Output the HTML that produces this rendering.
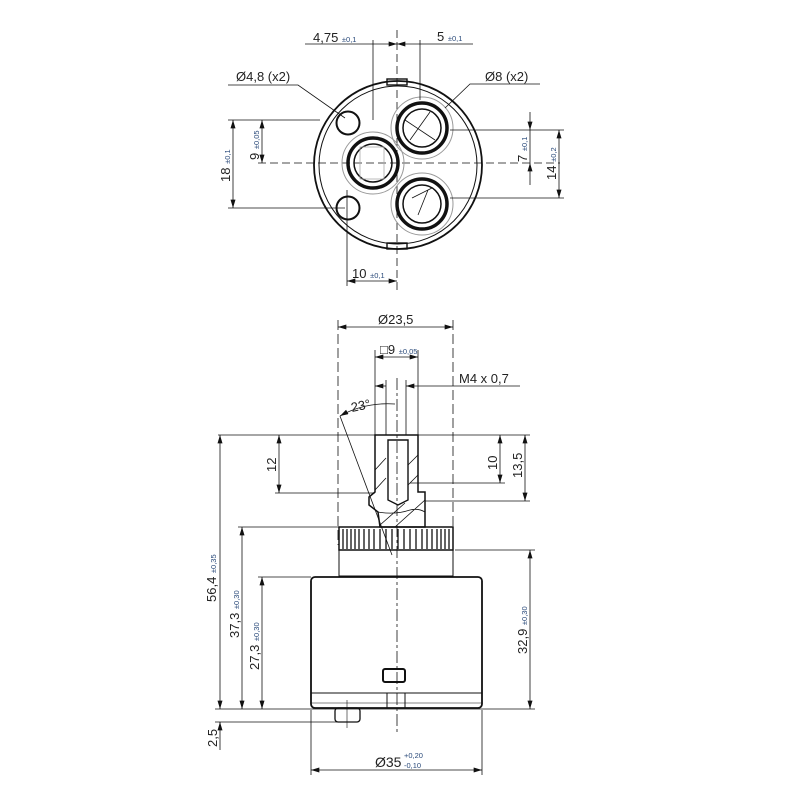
<!DOCTYPE html>
<html><head><meta charset="utf-8"><style>
html,body{margin:0;padding:0;background:#fff}
svg{display:block}
text{font-family:"Liberation Sans",sans-serif;fill:#222}
.t{font-size:7.5px;fill:#2a4a7a}
</style></head><body>
<svg width="800" height="800" viewBox="0 0 800 800" xmlns="http://www.w3.org/2000/svg">
<defs>
<marker id="a" viewBox="0 0 10 6" refX="10" refY="3" markerWidth="9" markerHeight="5" orient="auto-start-reverse" markerUnits="userSpaceOnUse"><path d="M0,0L10,3L0,6z" fill="#111"/></marker>
</defs>
<g stroke="#111" fill="none" stroke-width="1">
<!-- TOP VIEW -->
<line x1="397" y1="30" x2="397" y2="290" stroke-dasharray="8,4" stroke-width="0.8"/>
<line x1="258" y1="163" x2="560" y2="163" stroke-dasharray="8,4" stroke-width="0.8"/>
<circle cx="398" cy="165" r="84" stroke-width="1.8"/>
<circle cx="398" cy="165" r="79" stroke-width="1"/>
<rect x="387" y="79" width="20" height="6" stroke-width="1.4"/>
<rect x="387" y="243" width="20" height="6" stroke-width="1.4"/>
<circle cx="348" cy="123" r="11.5" stroke-width="2"/>
<circle cx="348" cy="208" r="11.5" stroke-width="2"/>
<circle cx="373" cy="163" r="31" stroke-width="1" stroke="#999"/>
<circle cx="373" cy="163" r="25" stroke-width="3.5"/>
<circle cx="373" cy="163" r="19" stroke-width="1.5"/>
<rect x="360" y="147" width="24" height="32" stroke="#aaa" stroke-width="0.8"/>
<circle cx="422" cy="128" r="31" stroke-width="1" stroke="#999"/>
<circle cx="422" cy="128" r="25" stroke-width="3.5"/>
<circle cx="422" cy="128" r="19" stroke-width="1.5"/>
<circle cx="422" cy="204" r="31" stroke-width="1" stroke="#999"/>
<circle cx="422" cy="204" r="25" stroke-width="3.5"/>
<circle cx="422" cy="204" r="19" stroke-width="1.5"/>
<path d="M405,120L435,140M410,140L430,112M412,198L432,188M418,215L428,190" stroke-width="0.8"/>
<!-- dims top -->
<line x1="305" y1="44" x2="397" y2="44" marker-end="url(#a)" stroke-width="0.8"/>
<line x1="373" y1="40" x2="373" y2="120" stroke-width="0.8"/>
<line x1="397" y1="44" x2="473" y2="44" marker-start="url(#a)" stroke-width="0.8"/>
<line x1="420" y1="40" x2="420" y2="100" stroke-width="0.8"/>
<polyline points="228,85 298,85 345,118" stroke-width="0.8"/>
<polyline points="540,84 470,84 445,108" stroke-width="0.8"/>
<line x1="233" y1="120" x2="233" y2="208" marker-start="url(#a)" marker-end="url(#a)" stroke-width="0.8"/>
<line x1="228" y1="120" x2="320" y2="120" stroke-width="0.8"/>
<line x1="228" y1="208" x2="345" y2="208" stroke-width="0.8"/>
<line x1="262" y1="120" x2="262" y2="163" marker-start="url(#a)" marker-end="url(#a)" stroke-width="0.8"/>
<line x1="530" y1="112" x2="530" y2="130" marker-end="url(#a)" stroke-width="0.8"/>
<line x1="530" y1="185" x2="530" y2="163" marker-end="url(#a)" stroke-width="0.8"/>
<line x1="530" y1="130" x2="530" y2="163" stroke-width="0.8"/>
<line x1="450" y1="130" x2="564" y2="130" stroke-width="0.8"/>
<line x1="559" y1="130" x2="559" y2="198" marker-start="url(#a)" marker-end="url(#a)" stroke-width="0.8"/>
<line x1="450" y1="198" x2="564" y2="198" stroke-width="0.8"/>
<line x1="347" y1="190" x2="347" y2="286" stroke-width="0.8"/>
<line x1="347" y1="281" x2="397" y2="281" marker-start="url(#a)" marker-end="url(#a)" stroke-width="0.8"/>

<!-- SIDE VIEW -->
<line x1="397" y1="378" x2="397" y2="732" stroke-dasharray="12,3,3,3" stroke-width="0.8"/>
<line x1="338" y1="320" x2="338" y2="545" stroke-dasharray="10,4" stroke-width="0.8"/>
<line x1="453" y1="320" x2="453" y2="545" stroke-dasharray="10,4" stroke-width="0.8"/>
<line x1="338" y1="327" x2="453" y2="327" marker-start="url(#a)" marker-end="url(#a)" stroke-width="0.8"/>
<line x1="375" y1="350" x2="375" y2="435" stroke-width="0.8"/>
<line x1="418" y1="350" x2="418" y2="435" stroke-width="0.8"/>
<line x1="375" y1="357" x2="418" y2="357" marker-start="url(#a)" marker-end="url(#a)" stroke-width="0.8"/>
<line x1="386" y1="380" x2="386" y2="435" stroke-width="0.8"/>
<line x1="406" y1="380" x2="406" y2="435" stroke-width="0.8"/>
<line x1="375" y1="386" x2="386" y2="386" marker-start="url(#a)" stroke-width="0.8"/>
<line x1="406" y1="386" x2="520" y2="386" marker-start="url(#a)" stroke-width="0.8"/>
<path d="M340,416Q365,402 395,404" marker-start="url(#a)" stroke-width="0.8"/>
<line x1="340" y1="416" x2="392" y2="555" stroke-width="0.8"/>
<line x1="218" y1="435" x2="530" y2="435" stroke-width="0.8"/>
<!-- stem -->
<path d="M375,435L418,435L418,492L425,492L425,527L380,527L378,512L369,505L369,497L375,492Z" stroke-width="1.5"/>
<path d="M388,440L408,440L408,500L398,505L388,500Z" stroke-width="1.4"/>
<path d="M375,470L386,458M375,490L386,478M408,465L418,455M408,485L418,475M380,525L405,503M395,527L425,500M378,512Q395,515 410,510Q418,508 425,512" stroke-width="0.8"/>
<line x1="275" y1="493" x2="375" y2="493" stroke-width="0.8"/>
<line x1="279" y1="435" x2="279" y2="493" marker-start="url(#a)" marker-end="url(#a)" stroke-width="0.8"/>
<line x1="410" y1="483" x2="505" y2="483" stroke-width="0.8"/>
<line x1="500" y1="435" x2="500" y2="483" marker-start="url(#a)" marker-end="url(#a)" stroke-width="0.8"/>
<line x1="425" y1="501" x2="530" y2="501" stroke-width="0.8"/>
<line x1="525" y1="435" x2="525" y2="501" marker-start="url(#a)" marker-end="url(#a)" stroke-width="0.8"/>
<!-- knurl -->
<rect x="339" y="527" width="114" height="23" stroke-width="1.5"/>
<g stroke-width="1.3">
<path d="M343,529V549M347,529V549M351,529V549M355,529V549M359,529V549M364,529V549M369,529V549M374,529V549M380,529V549M386,529V549M392,529V549M398,529V549M404,529V549M410,529V549M416,529V549M422,529V549M427,529V549M432,529V549M437,529V549M441,529V549M445,529V549M449,529V549"/>
</g>
<rect x="339" y="550" width="114" height="26" stroke-width="1"/>
<rect x="311" y="577" width="171" height="131" rx="4" stroke-width="1.8"/>
<line x1="311" y1="693" x2="482" y2="693" stroke-width="1"/>
<line x1="311" y1="703" x2="482" y2="703" stroke-width="0.6"/>
<rect x="383" y="669" width="22" height="13" rx="2" stroke-width="2"/>
<rect x="387" y="693" width="18" height="15" stroke-width="1"/>
<rect x="335" y="708" width="25" height="14" rx="3" stroke-width="1.3"/>
<line x1="347" y1="700" x2="347" y2="728" stroke-width="0.6"/>
<!-- dims side -->
<line x1="215" y1="709" x2="535" y2="709" stroke-width="0.8"/>
<line x1="215" y1="722" x2="345" y2="722" stroke-width="0.8"/>
<line x1="220" y1="435" x2="220" y2="709" marker-start="url(#a)" marker-end="url(#a)" stroke-width="0.8"/>
<line x1="220" y1="722" x2="220" y2="750" stroke-width="0.8"/>
<line x1="220" y1="725" x2="220" y2="722" marker-end="url(#a)" stroke-width="0.8"/>
<line x1="238" y1="527" x2="340" y2="527" stroke-width="0.8"/>
<line x1="242" y1="527" x2="242" y2="709" marker-start="url(#a)" marker-end="url(#a)" stroke-width="0.8"/>
<line x1="258" y1="577" x2="311" y2="577" stroke-width="0.8"/>
<line x1="262" y1="577" x2="262" y2="709" marker-start="url(#a)" marker-end="url(#a)" stroke-width="0.8"/>
<line x1="455" y1="550" x2="535" y2="550" stroke-width="0.8"/>
<line x1="530" y1="550" x2="530" y2="709" marker-start="url(#a)" marker-end="url(#a)" stroke-width="0.8"/>
<line x1="311" y1="710" x2="311" y2="775" stroke-width="0.8"/>
<line x1="482" y1="710" x2="482" y2="775" stroke-width="0.8"/>
<line x1="311" y1="770" x2="482" y2="770" marker-start="url(#a)" marker-end="url(#a)" stroke-width="0.8"/>
</g>
<!-- text -->
<text x="313" y="42" font-size="13">4,75 <tspan class="t">±0,1</tspan></text>
<text x="437" y="41" font-size="13">5 <tspan class="t">±0,1</tspan></text>
<text x="236" y="81" font-size="13">Ø4,8 (x2)</text>
<text x="485" y="81" font-size="13">Ø8 (x2)</text>
<text x="352" y="278" font-size="13">10 <tspan class="t">±0,1</tspan></text>
<text transform="translate(230,182) rotate(-90)" font-size="13">18 <tspan class="t">±0,1</tspan></text>
<text transform="translate(259,160) rotate(-90)" font-size="13">9 <tspan class="t">±0,05</tspan></text>
<text transform="translate(527,162) rotate(-90)" font-size="13">7 <tspan class="t">±0,1</tspan></text>
<text transform="translate(556,180) rotate(-90)" font-size="13">14 <tspan class="t">±0,2</tspan></text>
<text x="378" y="324" font-size="13">Ø23,5</text>
<text x="380" y="354" font-size="13">□9 <tspan class="t">±0,05</tspan></text>
<text x="459" y="383" font-size="13">M4 x 0,7</text>
<text transform="translate(352,412) rotate(-12)" font-size="13">23°</text>
<text transform="translate(276,472) rotate(-90)" font-size="13">12</text>
<text transform="translate(497,470) rotate(-90)" font-size="13">10</text>
<text transform="translate(522,478) rotate(-90)" font-size="13">13,5</text>
<text transform="translate(216,602) rotate(-90)" font-size="13">56,4 <tspan class="t">±0,35</tspan></text>
<text transform="translate(239,638) rotate(-90)" font-size="13">37,3 <tspan class="t">±0,30</tspan></text>
<text transform="translate(259,670) rotate(-90)" font-size="13">27,3 <tspan class="t">±0,30</tspan></text>
<text transform="translate(527,654) rotate(-90)" font-size="13">32,9 <tspan class="t">±0,30</tspan></text>
<text transform="translate(217,747) rotate(-90)" font-size="13">2,5</text>
<text x="375" y="767" font-size="14">Ø35</text>
<text x="404" y="758" class="t" font-size="7.5">+0,20</text>
<text x="404" y="768" class="t" font-size="7.5">-0,10</text>
</svg>
</body></html>
